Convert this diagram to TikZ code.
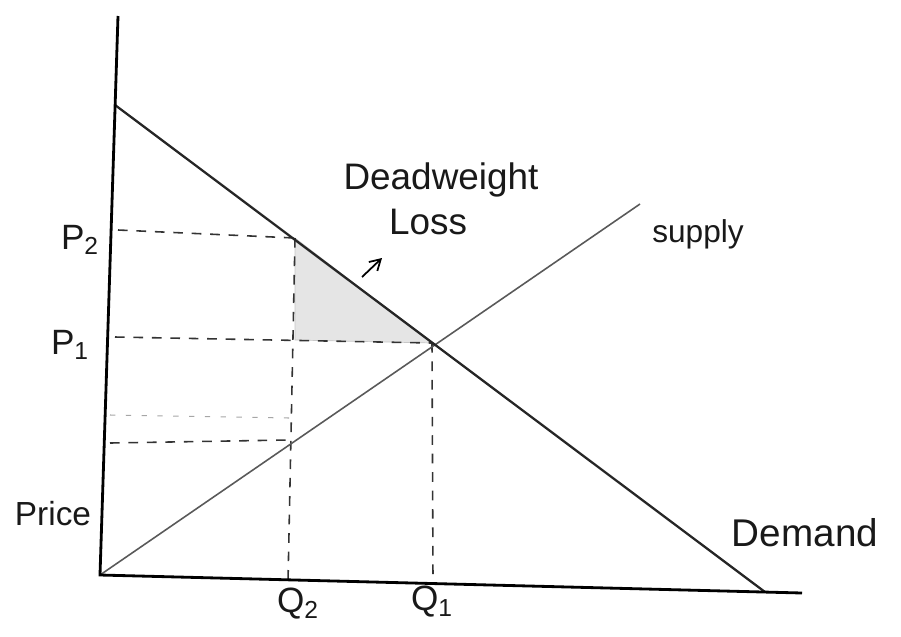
\documentclass[tikz,border=0pt]{standalone}
\usepackage{fontspec}
\setmainfont{Liberation Sans}
\usetikzlibrary{arrows.meta}
\begin{document}
\begin{tikzpicture}[x=0.02cm,y=-0.02cm,
  axis/.style={line width=1.6pt,black},
  demandline/.style={line width=1.3pt,black!85},
  supplyline/.style={line width=0.9pt,black!65},
  guide/.style={line width=0.9pt,black!80,dash pattern=on 5.5pt off 5pt},
  faintguide/.style={line width=0.6pt,black!35,dash pattern=on 3pt off 6pt},
  lbl/.style={inner sep=0pt,text=black!90},
  dwl/.style={fill=black!10,draw=black!22,line width=0.4pt}]
\useasboundingbox (0,0) rectangle (901,636);
% key points
\coordinate (ytop) at (118,16);
\coordinate (O) at (100,575);
\coordinate (xend) at (802,593);
\coordinate (dtop) at (115,105);
\coordinate (dend) at (765,592);
\coordinate (stop) at (640,204);
\coordinate (E) at (432,343);
\coordinate (A) at (295,238);
\coordinate (C) at (295,340);
\coordinate (B) at (288,440);
\coordinate (p2l) at (118,230);
\coordinate (p1l) at (115,337);
\coordinate (pbl) at (110,443);
\coordinate (pfl) at (110,415);
\coordinate (pfr) at (290,418);
\coordinate (q2b) at (288,582);
\coordinate (q1b) at (433,582);
\coordinate (arrS) at (362,277);
\coordinate (arrE) at (382,258);
% deadweight loss triangle
\fill[dwl] (A) -- (C) -- (E) -- cycle;
% guides
\draw[guide] (p2l) -- (A);
\draw[guide] (p1l) -- (E);
\draw[guide] (pbl) -- (B);
\draw[faintguide] (pfl) -- (pfr);
\draw[guide] (A) -- (q2b);
\draw[guide] (E) -- (q1b);
% curves
\draw[supplyline] (O) -- (stop);
\draw[demandline] (dtop) -- (dend);
% axes
\draw[axis] (ytop) -- (O) -- (xend);
% arrow
\draw[line width=1pt,-{Straight Barb[length=6pt,width=7pt]}] (arrS) -- (arrE);
% labels
\node[lbl,font=\fontsize{20}{24}\selectfont] (lp2) at (80,240) {P\textsubscript{2}};
\node[lbl,font=\fontsize{20}{24}\selectfont] (lp1) at (70,345) {P\textsubscript{1}};
\node[lbl,font=\fontsize{19}{23}\selectfont] (lprice) at (53,514) {Price};
\node[lbl,font=\fontsize{20}{24}\selectfont] (lq2) at (298,604) {Q\textsubscript{2}};
\node[lbl,font=\fontsize{20}{24}\selectfont] (lq1) at (432,602) {Q\textsubscript{1}};
\node[lbl,font=\fontsize{21}{25}\selectfont] (ldw) at (441,180) {Deadweight};
\node[lbl,font=\fontsize{21}{25}\selectfont] (lloss) at (428,222) {Loss};
\node[lbl,font=\fontsize{18}{22}\selectfont] (lsup) at (698,234) {supply};
\node[lbl,font=\fontsize{22}{26}\selectfont] (ldem) at (805,533) {Demand};
\end{tikzpicture}
\end{document}
